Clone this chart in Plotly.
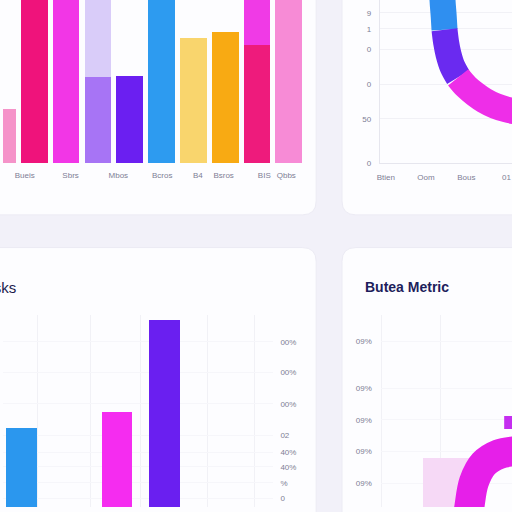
import plotly.graph_objects as go

W = H = 512

# ---------------- data ----------------
tl_labels = ["Bueis", "Sbrs", "Mbos", "Bcros", "B4", "Bsros", "BIS", "Qbbs"]
tl_label_pos = [0.70, 2.14, 3.64, 5.02, 6.14, 6.95, 8.23, 8.92]
tl_cats = list(range(10))
tl_lower = [33.3, 120, 120, 52.7, 53.3, 120, 77.0, 80.6, 72.7, 120]
tl_upper = [0, 0, 0, 67.3, 0, 0, 0, 0, 47.3, 0]
tl_lower_colors = ["#f593c9", "#ef137b", "#f236e6", "#a774f5", "#6b1ff1",
                   "#2d9bf0", "#f9d56d", "#f8aa13", "#ee1b7c", "#f78bd6"]
tl_upper_colors = ["#d9ccf9"] * 8 + ["#f03ae6", "#d9ccf9"]

tr_xlabels = ["Btien", "Oom", "Bous", "01"]
tr_ylabels = ["0", "50", "0", "0", "1", "9"]
tr_ytickpos = [0, 27.3, 48.5, 69.7, 82.4, 92.1]
arc_blue_x = [1.40, 1.41, 1.44, 1.46]
arc_blue_y = [112, 100, 90, 81.8]
arc_violet_x = [1.46, 1.50, 1.56, 1.66, 1.80]
arc_violet_y = [81.8, 74, 66.7, 59, 52.7]
arc_mag_x = [1.80, 2.00, 2.22, 2.45, 2.72, 3.00, 3.30]
arc_mag_y = [52.7, 47, 42.4, 38.5, 35.2, 33, 31.5]

bl_cats = [0, 1, 2, 3, 4]
bl_vals = [64.7, 0, 69.7, 98.5, 0]
bl_colors = ["#2b97ee", "#2b97ee", "#f52cf0", "#6a1ff0", "#6a1ff0"]
bl_ylabels = ["00%", "00%", "00%", "02", "40%", "40%", "%", "0"]
bl_ytickpos = [91.6, 82.1, 72.2, 62.3, 57.1, 52.5, 47.5, 42.6]
bl_grid_pos = [0.34, 1.45, 2.49, 3.89, 4.89]

br_ylabels = ["09%", "09%", "09%", "09%", "09%"]
br_ytickpos = [86.1, 61.9, 45.4, 28.9, 12.4]
br_grid_pos = [0.8, 45.5]
br_arc_x = [66.0, 67.5, 71.0, 78.5, 90.0, 102.0]
br_arc_y = [-6.7, 0, 13.0, 22.5, 27.5, 29.0]
br_box_x = [50.0]
br_box_y = [25.8]
br_sq_x = [99.0]
br_sq_y = [44.0]


def px_x(p):
    return p / W


def px_y(p):
    return 1 - p / H


def rrect(x0, y0, x1, y1, r):
    rx, ry = r / W, r / H
    X0, X1 = px_x(x0), px_x(x1)
    Y0, Y1 = px_y(y1), px_y(y0)
    return (f"M {X0+rx},{Y0} L {X1-rx},{Y0} Q {X1},{Y0} {X1},{Y0+ry} "
            f"L {X1},{Y1-ry} Q {X1},{Y1} {X1-rx},{Y1} L {X0+rx},{Y1} "
            f"Q {X0},{Y1} {X0},{Y1-ry} L {X0},{Y0+ry} Q {X0},{Y0} {X0+rx},{Y0} Z")


fig = go.Figure()

fig.add_trace(go.Bar(x=tl_cats, y=tl_lower, marker=dict(color=tl_lower_colors, line=dict(width=0)),
                     width=0.84, xaxis="x", yaxis="y", showlegend=False))
fig.add_trace(go.Bar(x=tl_cats, y=tl_upper, marker=dict(color=tl_upper_colors, line=dict(width=0)),
                     width=0.84, xaxis="x", yaxis="y", showlegend=False))

for xs, ys, c in [(arc_blue_x, arc_blue_y, "#2f8ff0"),
                  (arc_violet_x, arc_violet_y, "#6a2af0"),
                  (arc_mag_x, arc_mag_y, "#ee2ee8")]:
    fig.add_trace(go.Scatter(x=xs, y=ys, mode="lines", line=dict(color=c, width=26, shape="spline"),
                             xaxis="x2", yaxis="y2", showlegend=False, hoverinfo="skip"))

fig.add_trace(go.Bar(x=bl_cats, y=bl_vals, marker=dict(color=bl_colors, line=dict(width=0)),
                     width=0.64, xaxis="x3", yaxis="y3", showlegend=False))

fig.add_trace(go.Bar(x=br_box_x, y=br_box_y, width=36, marker=dict(color="#f6d9f6", line=dict(width=0)),
                     xaxis="x4", yaxis="y4", showlegend=False))
fig.add_trace(go.Scatter(x=br_sq_x, y=br_sq_y, mode="markers",
                         marker=dict(symbol="square", size=13, color="#c52ef0"),
                         xaxis="x4", yaxis="y4", showlegend=False, hoverinfo="skip", cliponaxis=True))
fig.add_trace(go.Scatter(x=br_arc_x, y=br_arc_y, mode="lines",
                         line=dict(color="#e61fe9", width=30, shape="spline"),
                         xaxis="x4", yaxis="y4", showlegend=False, hoverinfo="skip"))

grid = "#f1f1f6"
tickfont = dict(family="Liberation Sans", size=8, color="#7d7d95")

fig.update_layout(
    width=W, height=H,
    margin=dict(l=0, r=0, t=0, b=0),
    paper_bgcolor="#f2f1f9",
    plot_bgcolor="rgba(0,0,0,0)",
    barmode="stack",
    bargap=0,
    xaxis=dict(domain=[0, px_x(305)], range=[0.0156, 9.547], tickmode="array",
               tickvals=tl_label_pos, ticktext=tl_labels, tickfont=tickfont,
               showgrid=False, zeroline=False, showline=False, ticks="", ticklabelstandoff=6),
    yaxis=dict(domain=[px_y(165), 1], range=[0, 100], showticklabels=False,
               showgrid=False, zeroline=False, anchor="x"),
    xaxis2=dict(domain=[px_x(379), 1], range=[-0.148, 3.136], anchor="y2",
                tickmode="array", tickvals=[0, 1, 2, 3], ticktext=tr_xlabels, tickfont=tickfont,
                showgrid=False, zeroline=False, showline=True, linecolor="#e6e6ee", ticks="",
                ticklabelstandoff=6),
    yaxis2=dict(domain=[px_y(165), 1], range=[0, 100], anchor="x2",
                tickmode="array", tickvals=tr_ytickpos, ticktext=tr_ylabels, tickfont=tickfont,
                showgrid=True, gridcolor=grid, zeroline=False, showline=True, linecolor="#e6e6ee",
                ticks="", ticklabelstandoff=6),
    xaxis3=dict(domain=[0, px_x(272)], range=[-0.385, 5.28], anchor="y3",
                tickmode="array", tickvals=bl_grid_pos, showticklabels=False,
                showgrid=True, gridcolor=grid, zeroline=False, ticks=""),
    yaxis3=dict(domain=[0, px_y(318)], range=[40, 100], anchor="x3", side="right",
                tickmode="array", tickvals=bl_ytickpos, ticktext=bl_ylabels, tickfont=tickfont,
                showgrid=True, gridcolor="#f6f6fa", zeroline=False, ticks="", ticklabelstandoff=6),
    xaxis4=dict(domain=[px_x(380), 1], range=[0, 100], anchor="y4",
                tickmode="array", tickvals=br_grid_pos, showticklabels=False,
                showgrid=True, gridcolor=grid, zeroline=False, ticks=""),
    yaxis4=dict(domain=[0, px_y(318)], range=[0, 100], anchor="x4",
                tickmode="array", tickvals=br_ytickpos, ticktext=br_ylabels, tickfont=tickfont,
                showgrid=True, gridcolor="#f6f6fa", zeroline=False, ticks="", ticklabelstandoff=8),
    shapes=[
        dict(type="path", xref="paper", yref="paper", layer="below", path=rrect(-20, -20, 315, 217, 14),
             fillcolor="#fdfdff", line=dict(color="#ecebf4", width=1)),
        dict(type="path", xref="paper", yref="paper", layer="below", path=rrect(341, -20, 540, 217, 14),
             fillcolor="#fdfdff", line=dict(color="#ecebf4", width=1)),
        dict(type="path", xref="paper", yref="paper", layer="below", path=rrect(-20, 250, 315, 540, 14),
             fillcolor="#fdfdff", line=dict(color="#ecebf4", width=1)),
        dict(type="path", xref="paper", yref="paper", layer="below", path=rrect(341, 250, 540, 540, 14),
             fillcolor="#fdfdff", line=dict(color="#ecebf4", width=1)),
    ],
    annotations=[
        dict(text="Tasks", xref="paper", yref="paper", x=px_x(15), y=px_y(290),
             xanchor="right", yanchor="middle", showarrow=False,
             font=dict(family="Liberation Sans", size=15, color="#1b1b4b")),
        dict(text="<b>Butea Metric</b>", xref="paper", yref="paper", x=px_x(362), y=px_y(290),
             xanchor="left", yanchor="middle", showarrow=False,
             font=dict(family="Liberation Sans", size=14, color="#1e1e5c")),
    ],
)

fig.write_html("out.html", config={"displayModeBar": False},
               post_script="document.body.style.margin='0';document.body.style.overflow='hidden';")
